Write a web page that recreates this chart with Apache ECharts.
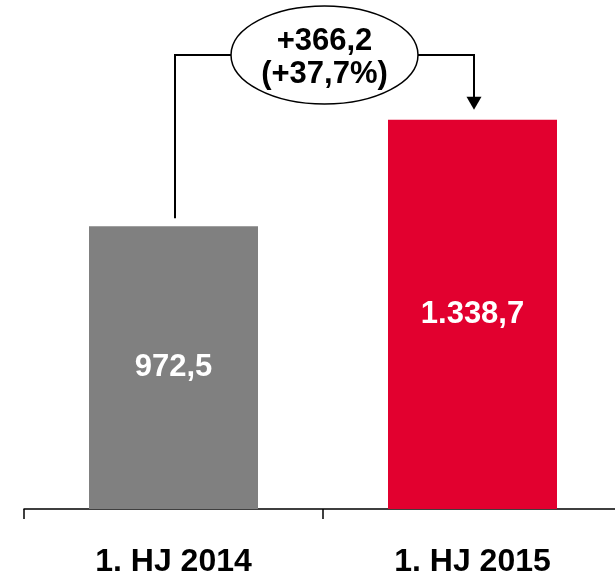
<!DOCTYPE html>
<html><head><meta charset="utf-8">
<script src="https://cdn.jsdelivr.net/npm/echarts@6/dist/echarts.min.js"></script>
<style>html,body{margin:0;padding:0;background:#fff}#c{width:615px;height:575px}</style>
</head><body><div id="c"></div>
<script>
const categories = ['1. HJ 2014', '1. HJ 2015'];
const values = [972.5, 1338.7];
const valueLabels = ['972,5', '1.338,7'];
const barColors = ['#808080', '#E2002F'];
const deltaText = ['+366,2', '(+37,7%)'];

const chart = echarts.init(document.getElementById('c'));
const FONT = '"Liberation Sans", Arial, sans-serif';
chart.setOption({
  animation: false,
  grid: { left: 24, right: -7, top: 0, bottom: 66, containLabel: false, outerBoundsMode: 'none' },
  xAxis: {
    type: 'category', data: categories, boundaryGap: true,
    axisLine: { show: true, lineStyle: { color: '#000', width: 1.5 } },
    axisTick: { show: true, inside: false, length: 10, interval: 0, alignWithLabel: false, lineStyle: { color: '#000', width: 1.5 } },
    axisLabel: { color: '#000', fontSize: 32, fontWeight: 'bold', fontFamily: FONT, margin: 37, interval: 0 }
  },
  yAxis: { type: 'value', min: 0, max: 1750, show: false, splitLine: { show: false } },
  series: [{
    type: 'bar', barWidth: 169,
    data: values.map((v, i) => ({ value: v, itemStyle: { color: barColors[i] } })),
    label: {
      show: true, position: 'inside', color: '#fff', fontSize: 31, fontWeight: 'bold', fontFamily: FONT,
      formatter: p => valueLabels[p.dataIndex]
    }
  }]
});

const p0 = chart.convertToPixel({ seriesIndex: 0 }, [0, values[0]]);
const p1 = chart.convertToPixel({ seriesIndex: 0 }, [1, values[1]]);
const x0 = p0[0] + 1.5, x1 = p1[0] + 1.5;
const yTop = 55;
const cx = (x0 + x1) / 2;
chart.setOption({
  graphic: [
    { type: 'polyline', shape: { points: [[x0, p0[1] - 8], [x0, yTop], [x1, yTop], [x1, p1[1] - 18]] },
      style: { stroke: '#000', lineWidth: 2, fill: null } },
    { type: 'polygon', shape: { points: [[x1 - 7.5, p1[1] - 23], [x1 + 7.5, p1[1] - 23], [x1, p1[1] - 10]] },
      style: { fill: '#000' } },
    { type: 'ellipse', shape: { cx: cx, cy: yTop, rx: 93.5, ry: 49 },
      style: { fill: '#fff', stroke: '#000', lineWidth: 1.5 } },
    { type: 'text', x: cx, y: 41, style: { text: deltaText[0], fill: '#000', font: 'bold 31px ' + FONT, textAlign: 'center', textVerticalAlign: 'middle' } },
    { type: 'text', x: cx, y: 74, style: { text: deltaText[1], fill: '#000', font: 'bold 31px ' + FONT, textAlign: 'center', textVerticalAlign: 'middle' } }
  ]
});
</script></body></html>
